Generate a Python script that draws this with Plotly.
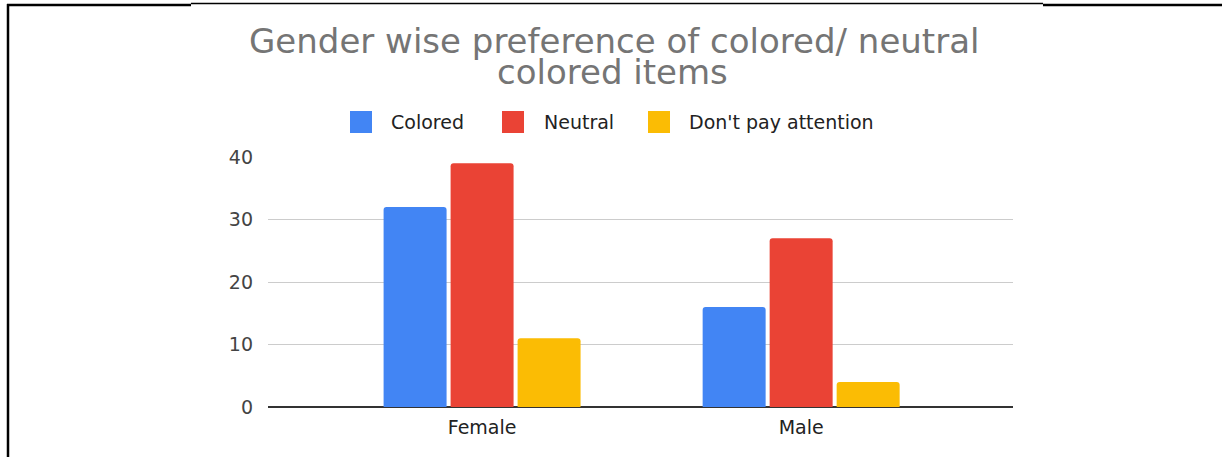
import plotly.graph_objects as go

categories = ["Female", "Male"]
colored = [32, 16]
neutral = [39, 27]
dont_pay = [11, 4]
series_names = ["Colored", "Neutral", "Don't pay attention"]
colors = ["#4285F4", "#EA4335", "#FBBC04"]
y_ticks = [0, 10, 20, 30, 40]
title_lines = ["Gender wise preference of colored/ neutral", "colored items"]

W, H = 1222, 457
L, R, T, B = 268, 1013, 157, 407
FONT = "DejaVu Sans, Liberation Sans, Arial, sans-serif"

def px(x):
    return (x - L) / (R - L)

def py(y):
    return (B - y) / (B - T)

fig = go.Figure()
for name, vals, col in zip(series_names, [colored, neutral, dont_pay], colors):
    fig.add_trace(go.Bar(x=categories, y=vals, name=name, showlegend=False,
                         marker=dict(color=col, line=dict(width=0), cornerradius=3)))

fig.update_layout(
    width=W, height=H,
    margin=dict(l=L, r=W - R, t=T, b=H - B, pad=0),
    paper_bgcolor="white", plot_bgcolor="white",
    barmode="group", bargap=0.37, bargroupgap=0.06,
    font=dict(family=FONT, color="#222222"),
    showlegend=False,
)
fig.update_xaxes(range=[-0.671, 1.664], showgrid=False, showline=False,
                 tickfont=dict(size=19, color="#222222"), ticks="", ticklabelstandoff=7)
fig.update_yaxes(range=[0, 40], tickvals=y_ticks, showgrid=True, gridcolor="#CCCCCC",
                 gridwidth=1.3, zeroline=True, zerolinecolor="#333333", zerolinewidth=2,
                 tickfont=dict(size=19, color="#444444"), ticks="", ticklabelstandoff=14,
                 showline=False)

# title (two lines with tight spacing)
for text, cx, cy in zip(title_lines, [614, 612], [41, 72]):
    fig.add_annotation(text=text, xref="paper", yref="paper", x=px(cx), y=py(cy),
                       xanchor="center", yanchor="middle", showarrow=False,
                       font=dict(family=FONT, size=34, color="#757575"))

# legend drawn by hand (large rounded swatches)
legend_sq = [350, 502, 648]
legend_tx = [389, 542, 687]
leg_y = 122
for name, col, sx, tx in zip(series_names, colors, legend_sq, legend_tx):
    fig.add_shape(type="rect", xref="paper", yref="paper",
                  x0=px(sx), x1=px(sx + 22), y0=py(leg_y - 11), y1=py(leg_y + 11),
                  fillcolor=col, line=dict(width=0))
    fig.add_annotation(text=name, xref="paper", yref="paper", x=px(tx), y=py(leg_y),
                       xanchor="left", yanchor="middle", showarrow=False,
                       font=dict(family=FONT, size=19, color="#222222"))

# page frame lines
fig.add_shape(type="line", xref="paper", yref="paper", x0=px(8), x1=px(8),
              y0=py(4), y1=py(460), line=dict(color="black", width=2.5))
fig.add_shape(type="line", xref="paper", yref="paper", x0=px(7), x1=px(191),
              y0=py(5), y1=py(5), line=dict(color="black", width=2.5))
fig.add_shape(type="line", xref="paper", yref="paper", x0=px(191), x1=px(1043),
              y0=py(3.5), y1=py(3.5), line=dict(color="black", width=1.3))
fig.add_shape(type="line", xref="paper", yref="paper", x0=px(1043), x1=px(1224),
              y0=py(5), y1=py(5), line=dict(color="black", width=2.5))

fig.write_html("out.html")
